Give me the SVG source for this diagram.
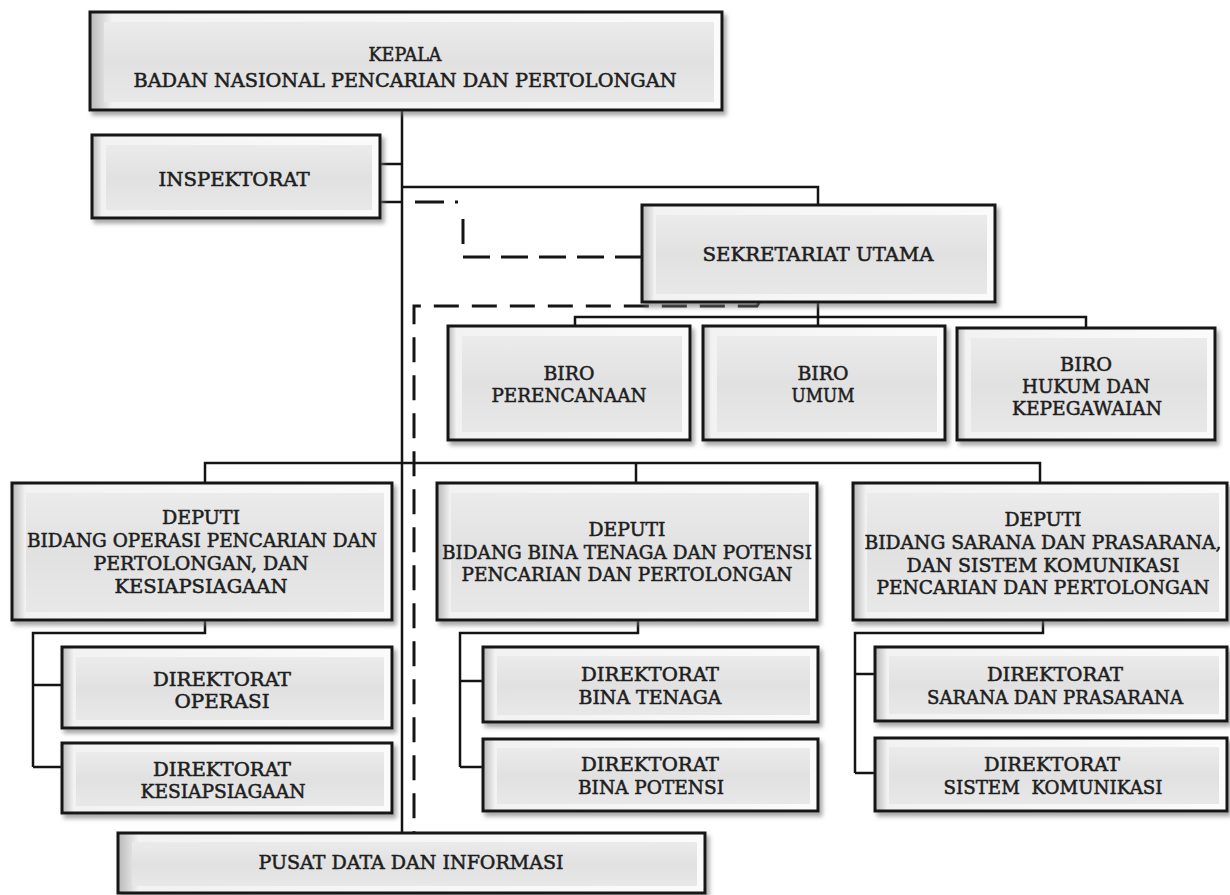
<svg xmlns="http://www.w3.org/2000/svg" width="1230" height="895" viewBox="0 0 1230 895">
<defs>
<filter id="sh" x="-5%" y="-10%" width="115%" height="130%">
<feDropShadow dx="3" dy="4" stdDeviation="2" flood-color="#6e6e6e" flood-opacity="0.6"/>
</filter>
<linearGradient id="face" x1="0" y1="0" x2="0" y2="1">
<stop offset="0" stop-color="#ebebeb"/>
<stop offset="0.5" stop-color="#e1e1e1"/>
<stop offset="1" stop-color="#e8e8e8"/>
</linearGradient>
<linearGradient id="edge" x1="0" y1="0" x2="1" y2="0">
<stop offset="0" stop-color="#b8b8b8"/>
<stop offset="0.035" stop-color="#f2f2f2"/>
<stop offset="1" stop-color="#fbfbfb"/>
</linearGradient>
<style>
.o{fill:url(#edge);stroke:#141414;stroke-width:3;filter:url(#sh)}
.i{fill:url(#face)}
text{font-family:"DejaVu Serif","Liberation Serif",serif;font-size:19px;fill:#1e1e1e;stroke:#1e1e1e;stroke-width:0.55;text-anchor:middle}
.c{fill:none;stroke:#141414;stroke-width:2.5}
.d{fill:none;stroke:#141414;stroke-width:3}
</style>
</defs>
<rect width="1230" height="895" fill="#ffffff"/>
<g id="connectors">
<path class="c" d="M402,110 V833"/>
<path class="c" d="M380,164 H402 M380,202 H402"/>
<path class="c" d="M402,187 H818 V205"/>
<path class="c" d="M818,302 V326"/>
<path class="c" d="M575,326 V317 H1086 V328"/>
<path class="c" d="M205,483 V463 H1040 V483 M636,463 V483"/>
<path class="c" d="M205,620 V633 H33 V767 M33,685 H62 M33,767 H62"/>
<path class="c" d="M638,620 V633 H460 V767 M460,681 H483 M460,767 H483"/>
<path class="c" d="M1043,620 V633 H855 V773 M855,674 H875 M855,773 H875"/>
<path class="d" d="M415,202 H444 M455,202 H458 M463,219 V244"/>
<path class="d" d="M463,257 H642" stroke-dasharray="27 11"/>
<path class="d" d="M760,301 L757,306 H414 V833" stroke-dasharray="25 13"/>
</g>
<g id="kepala"><rect class="o" x="90" y="12" width="632" height="98"/><rect class="i" x="104" y="22" width="610" height="80"/>
<text x="405" y="61" textLength="73" lengthAdjust="spacingAndGlyphs">KEPALA</text>
<text x="405" y="87" textLength="543" lengthAdjust="spacingAndGlyphs">BADAN NASIONAL PENCARIAN DAN PERTOLONGAN</text></g>
<g id="inspektorat"><rect class="o" x="92" y="135" width="288" height="83"/><rect class="i" x="106" y="145" width="266" height="65"/>
<text x="234" y="186" textLength="151" lengthAdjust="spacingAndGlyphs">INSPEKTORAT</text></g>
<g id="sekretariat-utama"><rect class="o" x="642" y="205" width="353" height="97"/><rect class="i" x="656" y="215" width="331" height="79"/>
<text x="818" y="261" textLength="231" lengthAdjust="spacingAndGlyphs">SEKRETARIAT UTAMA</text></g>
<g id="biro-perencanaan"><rect class="o" x="448" y="326" width="242" height="114"/><rect class="i" x="462" y="336" width="220" height="96"/>
<text x="569" y="380" textLength="51" lengthAdjust="spacingAndGlyphs">BIRO</text>
<text x="569" y="402" textLength="155" lengthAdjust="spacingAndGlyphs">PERENCANAAN</text></g>
<g id="biro-umum"><rect class="o" x="703" y="326" width="242" height="114"/><rect class="i" x="717" y="336" width="220" height="96"/>
<text x="823" y="380" textLength="51" lengthAdjust="spacingAndGlyphs">BIRO</text>
<text x="823" y="402" textLength="63" lengthAdjust="spacingAndGlyphs">UMUM</text></g>
<g id="biro-hukum"><rect class="o" x="957" y="328" width="258" height="112"/><rect class="i" x="971" y="338" width="236" height="94"/>
<text x="1086" y="371" textLength="52" lengthAdjust="spacingAndGlyphs">BIRO</text>
<text x="1086" y="393" textLength="128" lengthAdjust="spacingAndGlyphs">HUKUM DAN</text>
<text x="1087" y="415" textLength="150" lengthAdjust="spacingAndGlyphs">KEPEGAWAIAN</text></g>
<g id="deputi-operasi"><rect class="o" x="12" y="483" width="380" height="137"/><rect class="i" x="26" y="493" width="358" height="119"/>
<text x="201" y="524" textLength="78" lengthAdjust="spacingAndGlyphs">DEPUTI</text>
<text x="202" y="547" textLength="350" lengthAdjust="spacingAndGlyphs">BIDANG OPERASI PENCARIAN DAN</text>
<text x="201" y="570" textLength="215" lengthAdjust="spacingAndGlyphs">PERTOLONGAN, DAN</text>
<text x="201" y="593" textLength="173" lengthAdjust="spacingAndGlyphs">KESIAPSIAGAAN</text></g>
<g id="deputi-bina"><rect class="o" x="437" y="483" width="380" height="137"/><rect class="i" x="451" y="493" width="358" height="119"/>
<text x="627" y="536" textLength="77" lengthAdjust="spacingAndGlyphs">DEPUTI</text>
<text x="627" y="559" textLength="370" lengthAdjust="spacingAndGlyphs">BIDANG BINA TENAGA DAN POTENSI</text>
<text x="627" y="581" textLength="331" lengthAdjust="spacingAndGlyphs">PENCARIAN DAN PERTOLONGAN</text></g>
<g id="deputi-sarana"><rect class="o" x="853" y="483" width="374" height="137"/><rect class="i" x="867" y="493" width="352" height="119"/>
<text x="1043" y="526" textLength="77" lengthAdjust="spacingAndGlyphs">DEPUTI</text>
<text x="1043" y="549" textLength="357" lengthAdjust="spacingAndGlyphs">BIDANG SARANA DAN PRASARANA,</text>
<text x="1043" y="572" textLength="273" lengthAdjust="spacingAndGlyphs">DAN SISTEM KOMUNIKASI</text>
<text x="1043" y="594" textLength="333" lengthAdjust="spacingAndGlyphs">PENCARIAN DAN PERTOLONGAN</text></g>
<g id="dir-operasi"><rect class="o" x="62" y="647" width="330" height="81"/><rect class="i" x="76" y="657" width="308" height="63"/>
<text x="222" y="686" textLength="138" lengthAdjust="spacingAndGlyphs">DIREKTORAT</text>
<text x="222" y="708" textLength="95" lengthAdjust="spacingAndGlyphs">OPERASI</text></g>
<g id="dir-kesiapsiagaan"><rect class="o" x="62" y="743" width="330" height="70"/><rect class="i" x="76" y="752" width="308" height="54"/>
<text x="222" y="776" textLength="138" lengthAdjust="spacingAndGlyphs">DIREKTORAT</text>
<text x="223" y="798" textLength="165" lengthAdjust="spacingAndGlyphs">KESIAPSIAGAAN</text></g>
<g id="dir-bina-tenaga"><rect class="o" x="483" y="647" width="335" height="75"/><rect class="i" x="497" y="656" width="313" height="59"/>
<text x="650" y="681" textLength="138" lengthAdjust="spacingAndGlyphs">DIREKTORAT</text>
<text x="650" y="704" textLength="143" lengthAdjust="spacingAndGlyphs">BINA TENAGA</text></g>
<g id="dir-bina-potensi"><rect class="o" x="483" y="739" width="335" height="72"/><rect class="i" x="497" y="748" width="313" height="56"/>
<text x="650" y="771" textLength="138" lengthAdjust="spacingAndGlyphs">DIREKTORAT</text>
<text x="651" y="794" textLength="146" lengthAdjust="spacingAndGlyphs">BINA POTENSI</text></g>
<g id="dir-sarana"><rect class="o" x="875" y="647" width="352" height="74"/><rect class="i" x="889" y="656" width="330" height="58"/>
<text x="1055" y="681" textLength="136" lengthAdjust="spacingAndGlyphs">DIREKTORAT</text>
<text x="1055" y="704" textLength="256" lengthAdjust="spacingAndGlyphs">SARANA DAN PRASARANA</text></g>
<g id="dir-sistem"><rect class="o" x="875" y="738" width="352" height="73"/><rect class="i" x="889" y="747" width="330" height="57"/>
<text x="1052" y="771" textLength="136" lengthAdjust="spacingAndGlyphs">DIREKTORAT</text>
<text x="1053" y="794" textLength="219" lengthAdjust="spacingAndGlyphs" xml:space="preserve">SISTEM  KOMUNIKASI</text></g>
<g id="pusat-data"><rect class="o" x="118" y="833" width="587" height="60"/><rect class="i" x="132" y="842" width="565" height="44"/>
<text x="411" y="869" textLength="305" lengthAdjust="spacingAndGlyphs">PUSAT DATA DAN INFORMASI</text></g>
</svg>
